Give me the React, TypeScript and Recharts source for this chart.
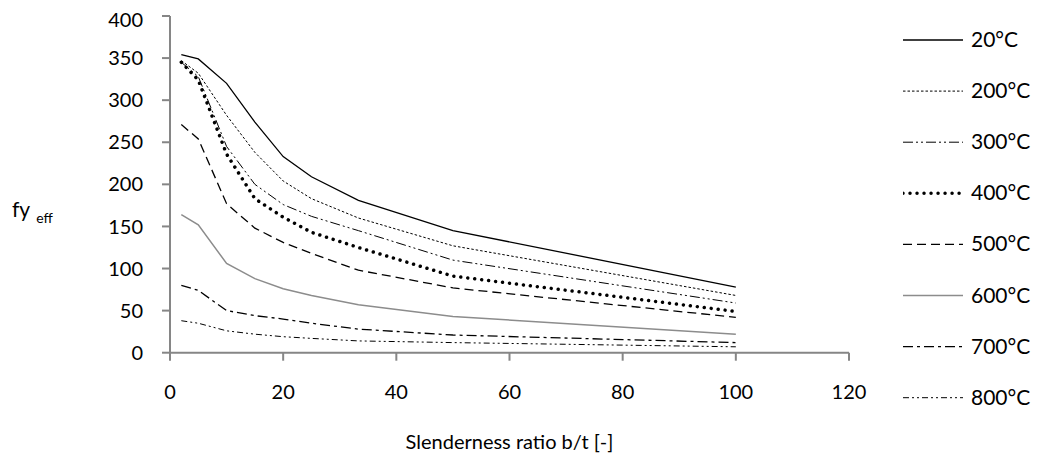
import { LineChart, Line, XAxis, YAxis } from "recharts";

// b/t values (x) and fy,eff readings per temperature
const slenderness = [2, 5, 10, 15, 20, 25, 33.3, 50, 100];
const fy20 = [354, 349, 320, 274, 233, 209, 181, 145, 78];
const fy200 = [347, 332, 282, 238, 204, 183, 160, 127, 68];
const fy300 = [345, 328, 245, 200, 176, 162, 145, 110, 59];
const fy400 = [345, 324, 236, 183, 161, 143, 125, 91, 49];
const fy500 = [271, 254, 177, 148, 131, 118, 98, 77, 42];
const fy600 = [164, 152, 106, 88, 76, 68, 57, 43, 22];
const fy700 = [80, 74, 50, 44, 40, 35, 28, 21, 12];
const fy800 = [38, 35, 26, 22, 19, 17, 14, 12, 7];

const xTicks = [0, 20, 40, 60, 80, 100, 120];
const yTicks = [0, 50, 100, 150, 200, 250, 300, 350, 400];

const series = [
  { key: "t20", name: "20°C", values: fy20, color: "#000", width: 1.3, dash: undefined, cap: "butt" },
  { key: "t200", name: "200°C", values: fy200, color: "#000", width: 1, dash: "2.5 2", cap: "butt" },
  { key: "t300", name: "300°C", values: fy300, color: "#000", width: 1, dash: "10 3 2 3 2 3", cap: "butt" },
  { key: "t400", name: "400°C", values: fy400, color: "#000", width: 3.5, dash: "0.01 7", cap: "round" },
  { key: "t500", name: "500°C", values: fy500, color: "#000", width: 1.3, dash: "9 5", cap: "butt" },
  { key: "t600", name: "600°C", values: fy600, color: "#8c8c8c", width: 1.5, dash: undefined, cap: "butt" },
  { key: "t700", name: "700°C", values: fy700, color: "#000", width: 1.3, dash: "10 4 3 4", cap: "butt" },
  { key: "t800", name: "800°C", values: fy800, color: "#000", width: 1, dash: "6 3 2 3 2 3", cap: "butt" },
];

const data = slenderness.map((bt, i) => {
  const row: Record<string, number> = { bt };
  series.forEach((s) => (row[s.key] = s.values[i]));
  return row;
});

const FONT = "Lato, 'Noto Sans', sans-serif";
const AXIS = "#868686";

const YTitle = () => (
  <text x={4} y={209} fontFamily={FONT} fill="#000">
    <tspan fontSize={21}>fy</tspan>
    <tspan fontSize={14} dx={6} dy={6}>eff</tspan>
  </text>
);

const App = () => {
  return (
    <div style={{ position: "relative", width: 1037, height: 456, fontFamily: FONT }}>
      <LineChart
        width={1037}
        height={456}
        data={data}
        margin={{ top: 8, right: 196, bottom: 0, left: 82 }}
      >
        <XAxis
          type="number"
          dataKey="bt"
          domain={[0, 120]}
          ticks={xTicks}
          height={111.3}
          stroke={AXIS}
          strokeWidth={2}
          tickSize={8}
          tickMargin={24}
          tick={{ fill: "#000", fontSize: 20, fontFamily: FONT }}
          label={{
            value: "Slenderness ratio b/t [-]",
            position: "insideBottom",
            offset: 15,
            fill: "#000",
            fontSize: 20,
            fontFamily: FONT,
          }}
        />
        <YAxis
          type="number"
          domain={[0, 400]}
          ticks={yTicks}
          width={80}
          stroke={AXIS}
          strokeWidth={2}
          tickSize={8}
          tickMargin={19}
          tick={{ fill: "#000", fontSize: 20, fontFamily: FONT }}
          label={{ content: () => <YTitle /> }}
        />
        {series.map((s) => (
          <Line
            key={s.key}
            dataKey={s.key}
            name={s.name}
            type="linear"
            stroke={s.color}
            strokeWidth={s.width}
            strokeDasharray={s.dash}
            strokeLinecap={s.cap as "butt" | "round"}
            dot={false}
            activeDot={false}
            isAnimationActive={false}
          />
        ))}
      </LineChart>
      <svg
        width={142}
        height={456}
        style={{ position: "absolute", left: 895, top: 0 }}
      >
        {series.map((s, i) => {
          const cy = 32 + 51.1 * i;
          return (
            <g key={s.key}>
              <line
                x1={0}
                x2={60}
                y1={cy}
                y2={cy}
                stroke={s.color}
                strokeWidth={s.width}
                strokeDasharray={s.dash}
                strokeLinecap={s.cap as "butt" | "round"}
              />
              <text x={68} y={cy + 7} fontSize={21} fontFamily={FONT} fill="#000">
                {s.name}
              </text>
            </g>
          );
        })}
      </svg>
    </div>
  );
};

export default App;
